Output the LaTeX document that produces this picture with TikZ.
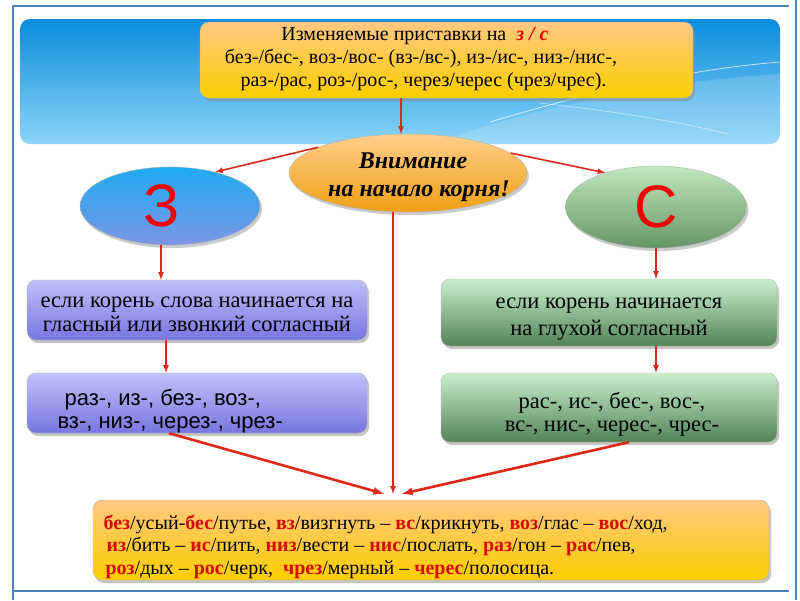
\documentclass[tikz,border=0pt]{standalone}
\usepackage{fontspec}
\setmainfont{Liberation Serif}
\setsansfont{Liberation Sans}
\usetikzlibrary{shapes.geometric,shadows}
\definecolor{framblue}{RGB}{79,129,189}
\definecolor{skytop}{RGB}{10,140,220}
\definecolor{skybot}{RGB}{140,212,248}
\definecolor{peach}{RGB}{255,200,130}
\definecolor{gold}{RGB}{255,206,0}
\definecolor{warntop}{RGB}{255,206,140}
\definecolor{warnbot}{RGB}{240,160,20}
\definecolor{ztop}{RGB}{30,170,240}
\definecolor{zbot}{RGB}{125,150,230}
\definecolor{stop}{RGB}{192,232,192}
\definecolor{sbot}{RGB}{100,150,100}
\definecolor{lilac}{RGB}{192,192,250}
\definecolor{violet}{RGB}{118,118,225}
\definecolor{mint}{RGB}{200,240,205}
\definecolor{moss}{RGB}{82,132,88}
\definecolor{arrred}{RGB}{220,40,25}
\definecolor{letred}{RGB}{240,0,0}
\definecolor{prered}{RGB}{215,10,10}
\newcommand{\redpart}[1]{\textcolor{prered}{\textbf{#1}}}
\tikzset{>=latex}
\tikzset{
  arr/.style={draw=arrred, line width=1.6pt, ->},
  fatarr/.style={draw=arrred, line width=2.6pt, ->},
  box/.style={rectangle, rounded corners=9pt, draw=black!30, inner sep=0pt,
    drop shadow={shadow xshift=2pt, shadow yshift=-3pt, fill=black!45}},
  oval/.style={ellipse, draw=black!30, inner sep=0pt,
    drop shadow={shadow xshift=2pt, shadow yshift=-3pt, fill=black!40}},
  frame/.style={draw=framblue, line width=2.6pt}
}

\begin{document}
\begin{tikzpicture}[x=1pt,y=-1pt]
\fill[white] (0,0) rectangle (800,600);
\useasboundingbox (0,0) rectangle (800,600);

\draw[frame] (13,600) -- (13,6) -- (789,6);
\draw[frame] (13,591) -- (789,591);
\draw[frame] (796,0) -- (796,600);

\node (sky) at (400,81.5) [rectangle, rounded corners=10pt, minimum width=760pt, minimum height=125pt, top color=skytop, bottom color=skybot] {};
\fill[white, opacity=.15] (430,144) .. controls (560,100) and (680,80) .. (780,74) -- (780,144) -- cycle;
\draw[white, opacity=.7, line width=.8pt] (490,122) .. controls (580,95) and (680,70) .. (780,62);
\draw[white, opacity=.6, line width=.6pt] (540,103) .. controls (620,112) and (680,122) .. (728,134);

\node (topbox) at (446.5,60) [box, minimum width=493pt, minimum height=76pt, top color=peach, bottom color=gold] {};
\node (toptext) at (421,59.5) [align=center, font=\fontsize{20}{23}\selectfont] {\hspace{-12pt}Изменяемые приставки на \ \textcolor{letred}{\textbf{\textit{з / с}}}\\ без-/бес-, воз-/вос- (вз-/вс-), из-/ис-, низ-/нис-,\\ \ раз-/рас, роз-/рос-, через/черес (чрез/чрес).};

\node (warn) at (408,173) [oval, minimum width=238pt, minimum height=78pt, top color=warntop, bottom color=warnbot] {};
\node (warntext) at (413,177) [align=center, font=\bfseries\itshape\fontsize{24}{28}\selectfont] {Внимание\\ \ \ на начало корня!};

\node (zell) at (170,206) [oval, minimum width=180pt, minimum height=78pt, top color=ztop, bottom color=zbot, text=letred, font=\sffamily\fontsize{60}{60}\selectfont] {\hspace*{-16pt}З};
\node (sell) at (656,207) [oval, minimum width=181pt, minimum height=82pt, top color=stop, bottom color=sbot, text=letred, font=\sffamily\fontsize{60}{60}\selectfont] {С};

\node (zbox1) at (197,310) [box, minimum width=340pt, minimum height=60pt, top color=lilac, bottom color=violet] {};
\node (ztext1) at (197,314) [align=center, font=\fontsize{22.5}{24}\selectfont] {если корень слова начинается на\\ гласный или звонкий согласный};
\node (zbox2) at (197,403) [box, minimum width=340pt, minimum height=60pt, top color=lilac, bottom color=violet] {};
\node (ztext2) at (54,411) [anchor=west, align=left, font=\sffamily\fontsize{22}{23}\selectfont] {\hspace{7pt}раз-, из-, без-, воз-,\\ вз-, низ-, через-, чрез-};

\node (sbox1) at (609,312.5) [box, minimum width=336pt, minimum height=67pt, top color=mint, bottom color=moss] {};
\node (stext1) at (609,319) [align=center, font=\fontsize{22.5}{27}\selectfont] {если корень начинается\\ на глухой согласный};
\node (sbox2) at (609,407.5) [box, minimum width=336pt, minimum height=69pt, top color=mint, bottom color=moss] {};
\node (stext2) at (612,414) [align=center, font=\fontsize{22.5}{23}\selectfont] {рас-, ис-, бес-, вос-,\\ вс-, нис-, черес-, чрес-};

\node (extbox) at (431,540) [box, minimum width=676pt, minimum height=80pt, top color=peach, bottom color=gold] {};
\node (extext) at (100,546.5) [anchor=west, align=left, font=\fontsize{20}{22.5}\selectfont] {\redpart{без}/усый-\redpart{бес}/путье, \redpart{вз}/визгнуть – \redpart{вс}/крикнуть, \redpart{воз}/глас – \redpart{вос}/ход,\\ \hspace{3pt}\redpart{из}/бить – \redpart{ис}/пить, \redpart{низ}/вести – \redpart{нис}/послать, \redpart{раз}/гон – \redpart{рас}/пев,\\ \hspace{2pt}\redpart{роз}/дых – \redpart{рос}/черк, \ \redpart{чрез}/мерный – \redpart{черес}/полосица.};

\draw[arr] ([xshift=-45.5pt]topbox.south) -- ([xshift=-7pt]warn.north);
\draw[arr] (warn.164) -- (zell.37);
\draw[arr] (warn.11) -- (sell.146);
\draw[arr] ([xshift=-15pt]warn.south) -- ([xshift=-38pt,yshift=6pt]extbox.north);

\draw[arr] ([xshift=-9pt]zell.south) -- ([xshift=-36pt]zbox1.north);
\draw[arr] ([xshift=-31pt]zbox1.south) -- ([xshift=-31pt]zbox2.north);
\draw[arr] (sell.south) -- ([xshift=47pt]sbox1.north);
\draw[arr] ([xshift=47pt]sbox1.south) -- ([xshift=47pt]sbox2.north);

\draw[fatarr] ([xshift=-28pt]zbox2.south) -- ([xshift=-47pt,yshift=6pt]extbox.north);
\draw[fatarr] ([xshift=20pt]sbox2.south) -- ([xshift=-29pt,yshift=6pt]extbox.north);
\end{tikzpicture}
\end{document}
